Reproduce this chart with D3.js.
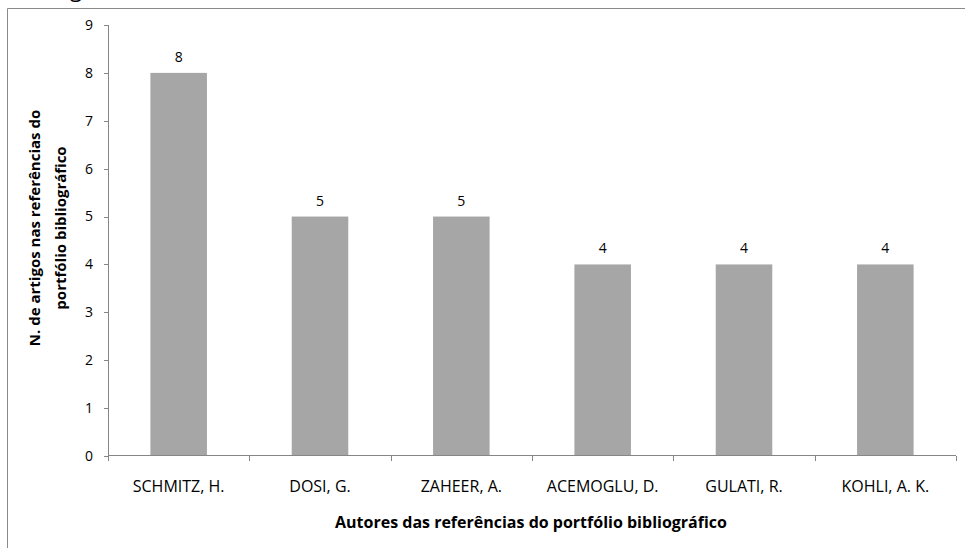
<!DOCTYPE html>
<html>
<head>
<meta charset="utf-8">
<script src="https://cdn.jsdelivr.net/npm/d3@7"></script>
<style>
  body { margin: 0; background: #fff; }
  text { font-family: "Open Sans", "Liberation Sans", sans-serif; fill: #000; }
</style>
</head>
<body>
<svg width="965" height="548"></svg>
<script>
// data
const authors = ["SCHMITZ, H.", "DOSI, G.", "ZAHEER, A.", "ACEMOGLU, D.", "GULATI, R.", "KOHLI, A. K."];
const counts = [8, 5, 5, 4, 4, 4];
const yTicks = [0, 1, 2, 3, 4, 5, 6, 7, 8, 9];
const yTitle = ["N. de artigos nas referências do", "portfólio bibliográfico"];
const xTitle = "Autores das referências do portfólio bibliográfico";

const svg = d3.select("svg");
const axisColor = "#868686";

// outer frame (only top and left edges visible in the crop)
svg.append("line").attr("x1", 7.5).attr("x2", 965).attr("y1", 8.5).attr("y2", 8.5)
  .attr("stroke", "#8a8a8a");
svg.append("line").attr("x1", 7.5).attr("x2", 7.5).attr("y1", 8.5).attr("y2", 548)
  .attr("stroke", "#8a8a8a");

// cut-off title above the frame
svg.append("text").attr("x", 70).attr("y", -3).attr("font-size", "22px").text("g");

const plotL = 108, plotR = 956, plotT = 25, plotB = 456;

var x = d3.scaleBand().domain(authors).range([plotL, plotR]).paddingInner(0.6).paddingOuter(0.3);
var y = d3.scaleLinear().domain([0, 9]).range([plotB, plotT]);

// bars
svg.append("g").selectAll("rect")
  .data(authors)
  .enter()
  .append("rect")
  .attr("x", function (d) { return x(d); })
  .attr("width", x.bandwidth())
  .attr("y", function (d, i) { return y(counts[i]); })
  .attr("height", function (d, i) { return plotB - y(counts[i]); })
  .attr("fill", "#a6a6a6");

// value labels
svg.append("g").selectAll("text")
  .data(authors)
  .enter()
  .append("text")
  .attr("x", function (d) { return x(d) + x.bandwidth() / 2; })
  .attr("y", function (d, i) { return y(counts[i]) - 11; })
  .attr("text-anchor", "middle")
  .attr("font-size", "14px")
  .text(function (d, i) { return counts[i]; });

// y axis
const yAxis = svg.append("g");
yAxis.append("line").attr("x1", plotL + 0.5).attr("x2", plotL + 0.5)
  .attr("y1", plotT).attr("y2", plotB + 5).attr("stroke", axisColor);
yAxis.selectAll(".tick")
  .data(yTicks)
  .enter()
  .append("line")
  .attr("x1", plotL - 4).attr("x2", plotL)
  .attr("y1", function (d) { return Math.round(y(d)) + 0.5; })
  .attr("y2", function (d) { return Math.round(y(d)) + 0.5; })
  .attr("stroke", axisColor);
yAxis.selectAll("text")
  .data(yTicks)
  .enter()
  .append("text")
  .attr("x", plotL - 15)
  .attr("y", function (d) { return y(d); })
  .attr("dy", "0.35em")
  .attr("text-anchor", "end")
  .attr("font-size", "14px")
  .text(function (d) { return d; });

// x axis
const xAxis = svg.append("g");
xAxis.append("line").attr("x1", plotL).attr("x2", plotR)
  .attr("y1", plotB - 0.5).attr("y2", plotB - 0.5).attr("stroke", axisColor);
const step = (plotR - plotL) / authors.length;
xAxis.selectAll(".tick")
  .data(d3.range(authors.length + 1))
  .enter()
  .append("line")
  .attr("x1", function (i) { return Math.round(plotL + i * step) + 0.5; })
  .attr("x2", function (i) { return Math.round(plotL + i * step) + 0.5; })
  .attr("y1", plotB).attr("y2", plotB + 5)
  .attr("stroke", axisColor);
xAxis.selectAll("text")
  .data(authors)
  .enter()
  .append("text")
  .attr("x", function (d) { return x(d) + x.bandwidth() / 2; })
  .attr("y", 492)
  .attr("text-anchor", "middle")
  .attr("font-size", "16px")
  .text(function (d) { return d; });

// axis titles
svg.append("text")
  .attr("x", 531).attr("y", 528)
  .attr("text-anchor", "middle")
  .attr("font-size", "16px")
  .attr("font-weight", "bold")
  .text(xTitle);

const yt = svg.append("text")
  .attr("transform", "translate(40,228)rotate(-90)")
  .attr("text-anchor", "middle")
  .attr("font-size", "15px")
  .attr("font-weight", "bold");
yt.selectAll("tspan")
  .data(yTitle)
  .enter()
  .append("tspan")
  .attr("x", 0)
  .attr("dy", function (d, i) { return i === 0 ? 0 : 26; })
  .text(function (d) { return d; });
</script>
</body>
</html>
